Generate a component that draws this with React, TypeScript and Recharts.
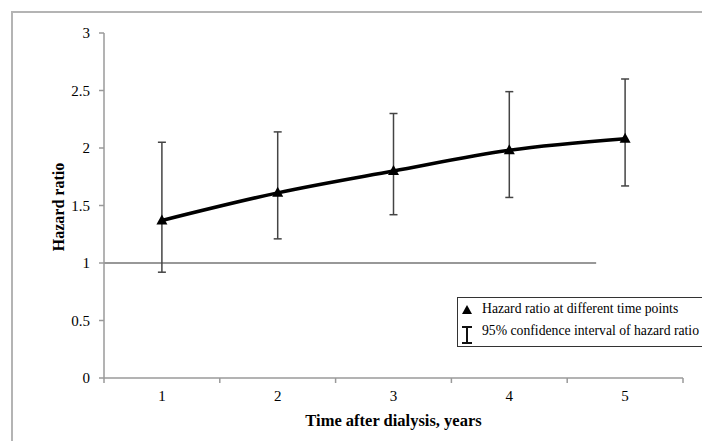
import { LineChart, Line, XAxis, YAxis, ErrorBar, ReferenceLine, Legend } from "recharts";

const years = ["1", "2", "3", "4", "5"];
const yearNums = [1, 2, 3, 4, 5];
const hazardRatio = [1.37, 1.61, 1.8, 1.98, 2.08];
const ciLower = [0.92, 1.21, 1.42, 1.57, 1.67];
const ciUpper = [2.05, 2.14, 2.3, 2.49, 2.6];
const yTicks = [0, 0.5, 1, 1.5, 2, 2.5, 3];
const referenceValue = 1;
// reference line runs from the y axis to three quarters of the way into the year-5 band
const referenceEnd = 4.75;

const data = years.map((label, i) => ({
  label,
  year: yearNums[i],
  hr: hazardRatio[i],
  ci: [hazardRatio[i] - ciLower[i], ciUpper[i] - hazardRatio[i]],
}));

const serif = "'Liberation Serif', 'Times New Roman', serif";
const axisGrey = "#9a9a9a";

function Triangle(props: any) {
  const { cx, cy } = props;
  if (cx == null || cy == null) return null;
  return <path d={`M${cx},${cy - 6} L${cx + 5.5},${cy + 4} L${cx - 5.5},${cy + 4} Z`} fill="#000" />;
}

// Excel-style category axis: tick marks between the bands, labels in the middle
function XTick(props: any) {
  const { x, y, payload, index, visibleTicksCount } = props;
  const half = payload?.offset ?? 0;
  const last = index === visibleTicksCount - 1;
  return (
    <g>
      <line x1={x - half} y1={y} x2={x - half} y2={y + 5} stroke={axisGrey} strokeWidth={1.5} />
      {last && <line x1={x + half} y1={y} x2={x + half} y2={y + 5} stroke={axisGrey} strokeWidth={1.5} />}
      <text x={x} y={y + 12} dy="0.71em" textAnchor="middle" fill="#000" fontSize={15} fontFamily={serif}>
        {payload.value}
      </text>
    </g>
  );
}

function LegendBox() {
  return (
    <div
      style={{
        position: "relative",
        width: 270,
        height: 50,
        boxSizing: "border-box",
        border: "1.5px solid #333",
        background: "#fff",
        fontFamily: serif,
        fontSize: 13.7,
        color: "#000",
      }}
    >
      <svg width={24} height={48} style={{ position: "absolute", left: 0, top: 0 }}>
        <path d="M9,7 L14,16 L4,16 Z" fill="#000" />
        <line x1={4} y1={29} x2={14} y2={29} stroke="#111" strokeWidth={2} />
        <line x1={9} y1={29} x2={9} y2={45} stroke="#111" strokeWidth={2} />
        <line x1={4} y1={45} x2={14} y2={45} stroke="#111" strokeWidth={2} />
      </svg>
      <div style={{ position: "absolute", left: 24, top: 3, whiteSpace: "nowrap" }}>
        Hazard ratio at different time points
      </div>
      <div style={{ position: "absolute", left: 24, top: 25, whiteSpace: "nowrap" }}>
        95% confidence interval of hazard ratio
      </div>
    </div>
  );
}

export default function App() {
  return (
    <div
      style={{
        position: "absolute",
        left: 0,
        top: 0,
        width: 702,
        height: 441,
        overflow: "hidden",
        background: "#fff",
      }}
    >
      <div
        style={{
          position: "absolute",
          left: 11,
          top: 11,
          width: 720,
          height: 460,
          border: "2px solid #b4b4b4",
        }}
      />
      <div style={{ position: "absolute", left: 0, top: 0 }}>
        <LineChart width={702} height={441} data={data} margin={{ top: 33, right: 19, bottom: 33, left: 0 }}>
          <XAxis
            xAxisId="cat"
            dataKey="label"
            type="category"
            scale="band"
            axisLine={{ stroke: axisGrey, strokeWidth: 1.5 }}
            tickLine={false}
            tickSize={0}
            tickMargin={0}
            height={30}
            tick={<XTick />}
            label={{
              value: "Time after dialysis, years",
              position: "bottom",
              offset: 6,
              fill: "#000",
              fontSize: 16.5,
              fontWeight: "bold",
              fontFamily: serif,
            }}
          />
          <XAxis
            xAxisId="num"
            dataKey="year"
            type="number"
            domain={[0.5, 5.5]}
            allowDataOverflow
            hide
          />
          <YAxis
            domain={[0, 3]}
            ticks={yTicks}
            width={104}
            tickSize={5}
            tickMargin={9}
            axisLine={{ stroke: axisGrey, strokeWidth: 1.5 }}
            tickLine={{ stroke: axisGrey, strokeWidth: 1.5 }}
            tick={{ fill: "#000", fontSize: 15, fontFamily: serif }}
            label={() => (
              <text
                x={58}
                y={207}
                transform="rotate(-90 58 207)"
                textAnchor="middle"
                dominantBaseline="central"
                fill="#000"
                fontSize={16}
                fontWeight="bold"
                fontFamily={serif}
              >
                Hazard ratio
              </text>
            )}
          />
          <ReferenceLine
            xAxisId="num"
            segment={[
              { x: 0.5, y: referenceValue },
              { x: referenceEnd, y: referenceValue },
            ]}
            stroke="#333"
            strokeWidth={1.2}
            ifOverflow="visible"
          />
          <Line
            xAxisId="cat"
            dataKey="hr"
            type="monotone"
            stroke="#000"
            strokeWidth={3.5}
            dot={<Triangle />}
            activeDot={false}
            isAnimationActive={false}
          >
            <ErrorBar dataKey="ci" direction="y" width={4} stroke="#444" strokeWidth={1.5} isAnimationActive={false} />
          </Line>
          <Legend
            layout="horizontal"
            verticalAlign="middle"
            align="center"
            content={() => <LegendBox />}
            wrapperStyle={{ position: "absolute", left: 457, top: 297, width: 270, height: 50 }}
          />
        </LineChart>
      </div>
    </div>
  );
}
